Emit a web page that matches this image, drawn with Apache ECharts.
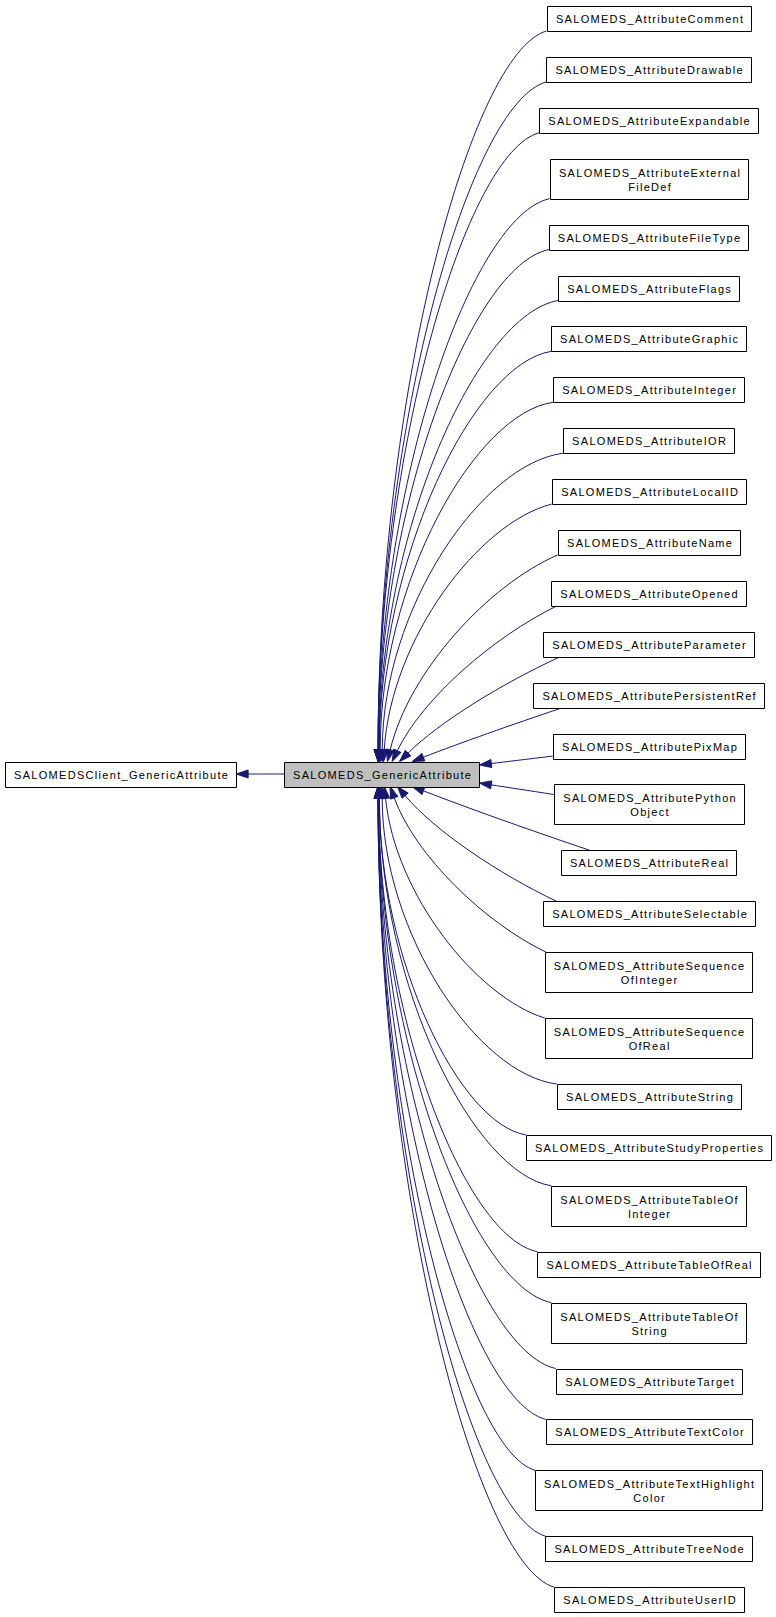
<!DOCTYPE html>
<html><head><meta charset="utf-8">
<script src="https://cdn.jsdelivr.net/npm/echarts@6/dist/echarts.min.js"></script>
<style>
html,body{margin:0;padding:0;background:#fff;}
#chart{width:776px;height:1617px;}
#chart text{letter-spacing:1.3px;}
</style></head><body><div id="chart"></div>
<script>
// ---- data ----
const baseClass = 'SALOMEDSClient_GenericAttribute';
const focusClass = 'SALOMEDS_GenericAttribute';
const derivedClasses = [
  'SALOMEDS_AttributeComment',
  'SALOMEDS_AttributeDrawable',
  'SALOMEDS_AttributeExpandable',
  'SALOMEDS_AttributeExternal\nFileDef',
  'SALOMEDS_AttributeFileType',
  'SALOMEDS_AttributeFlags',
  'SALOMEDS_AttributeGraphic',
  'SALOMEDS_AttributeInteger',
  'SALOMEDS_AttributeIOR',
  'SALOMEDS_AttributeLocalID',
  'SALOMEDS_AttributeName',
  'SALOMEDS_AttributeOpened',
  'SALOMEDS_AttributeParameter',
  'SALOMEDS_AttributePersistentRef',
  'SALOMEDS_AttributePixMap',
  'SALOMEDS_AttributePython\nObject',
  'SALOMEDS_AttributeReal',
  'SALOMEDS_AttributeSelectable',
  'SALOMEDS_AttributeSequence\nOfInteger',
  'SALOMEDS_AttributeSequence\nOfReal',
  'SALOMEDS_AttributeString',
  'SALOMEDS_AttributeStudyProperties',
  'SALOMEDS_AttributeTableOf\nInteger',
  'SALOMEDS_AttributeTableOfReal',
  'SALOMEDS_AttributeTableOf\nString',
  'SALOMEDS_AttributeTarget',
  'SALOMEDS_AttributeTextColor',
  'SALOMEDS_AttributeTextHighlight\nColor',
  'SALOMEDS_AttributeTreeNode',
  'SALOMEDS_AttributeUserID'
];

// ---- layout / style constants ----
const W = 776, H = 1617;
const FONT = '11px "Liberation Sans", Arial, Helvetica, sans-serif';
const LS = 1.3, PAD = 8, LINE_H = 14;
const H1 = 25, H2 = 40, GAP = 25.9, TOP0 = 6;
const RANK_GAP = 48, BASE_X0 = 5, ROW_Y = 774, CHILD_CX = 648.7;
const EDGE = '#191970', AL = 12, AW = 4;

const mctx = document.createElement('canvas').getContext('2d');
mctx.font = FONT;
function textWidth(t) {
  return Math.max.apply(null, t.split('\n').map(l => mctx.measureText(l).width + LS * l.length));
}
function boxH(t) { return t.indexOf('\n') >= 0 ? H2 : H1; }

const nodes = [];
const bw = textWidth(baseClass) + 2 * PAD;
nodes.push({name: baseClass, x0: BASE_X0, y0: ROW_Y - H1 / 2, x1: BASE_X0 + bw, y1: ROW_Y + H1 / 2, fill: '#ffffff'});
const fw = textWidth(focusClass) + 2 * PAD;
const fx0 = nodes[0].x1 + RANK_GAP;
nodes.push({name: focusClass, x0: fx0, y0: ROW_Y - H1 / 2, x1: fx0 + fw, y1: ROW_Y + H1 / 2, fill: '#bfbfbf'});
const childW = derivedClasses.map(t => textWidth(t) + 2 * PAD);
let yTop = TOP0;
derivedClasses.forEach((t, i) => {
  const h = boxH(t);
  nodes.push({name: t, x0: CHILD_CX - childW[i] / 2, y0: yTop, x1: CHILD_CX + childW[i] / 2, y1: yTop + h, fill: '#ffffff'});
  yTop += h + GAP;
});

// ---- edge geometry ----
const clamp = (v, a, b) => Math.max(a, Math.min(b, v));
const lerp = (p, q, w) => [p[0] + (q[0] - p[0]) * w, p[1] + (q[1] - p[1]) * w];
const P = nodes[1];
function finish(S, C1, C2, T) {
  let ux = T[0] - C2[0], uy = T[1] - C2[1];
  const l = Math.hypot(ux, uy) || 1; ux /= l; uy /= l;
  const B = [T[0] - ux * AL, T[1] - uy * AL];
  return {S, C1, C2, B, T};
}
const edges = [];
// focus -> base
(function () {
  const S = [P.x0, ROW_Y], T = [nodes[0].x1, ROW_Y];
  edges.push(finish(S, lerp(S, T, 1 / 3), lerp(S, T, 2 / 3), T));
})();
nodes.slice(2).forEach(c => {
  const cy = (c.y0 + c.y1) / 2;
  const s = cy < ROW_Y ? -1 : 1;   // -1: child above parent
  const d = -s;                      // vertical travel direction child -> parent
  let S, T, K1, K2, r;
  if (Math.abs(cy - ROW_Y) < 50) {
    T = [P.x1, ROW_Y + s * 9];
    const h = c.y1 - c.y0;
    S = [c.x0, clamp(T[1], c.y0 + 0.25 * h, c.y1 - 0.1 * h)];
    r = 0;
    K1 = S; K2 = T;
  } else {
    const edgeY = s < 0 ? c.y1 : c.y0;
    const ty = s < 0 ? P.y0 : P.y1;
    const dyAbs = Math.abs(ty - edgeY);
    r = dyAbs / (c.x0 - 390);
    const tx = 378 + Math.min(36, 36 * Math.exp(-1.5 * (r - 0.34)));
    T = [tx, ty];
    S = [c.x0 + clamp((1.1 - r) * 40, 0, 45), edgeY];
    const dxp = S[0] - T[0];
    K1 = [S[0] - 0.45 * dxp, S[1] + d * 0.03 * dyAbs];
    K2 = [T[0], T[1] - d * 0.5 * dyAbs];
  }
  const w = clamp((r - 0.3) / 1.5, 0, 1);
  const C1 = lerp(lerp(S, T, 1 / 3), K1, w);
  const C2 = lerp(lerp(S, T, 2 / 3), K2, w);
  edges.push(finish(S, C1, C2, T));
});

// ---- chart ----
const chart = echarts.init(document.getElementById('chart'), null, {renderer: 'svg', width: W, height: H});
chart.setOption({
  animation: false,
  backgroundColor: '#ffffff',
  grid: {left: 0, right: 0, top: 0, bottom: 0},
  xAxis: {type: 'value', min: 0, max: W, show: false},
  yAxis: {type: 'value', min: 0, max: H, inverse: true, show: false},
  series: [
    {
      type: 'custom',
      coordinateSystem: 'cartesian2d',
      encode: {x: 0, y: 1},
      data: edges.map((e, i) => [e.S[0], e.S[1], i]),
      renderItem: function (params, api) {
        const g = edges[api.value(2)];
        const s = api.coord(g.S), c1 = api.coord(g.C1), c2 = api.coord(g.C2), b = api.coord(g.B), t = api.coord(g.T);
        let ux = t[0] - b[0], uy = t[1] - b[1];
        const l = Math.hypot(ux, uy) || 1;
        const nx = -uy / l * AW, ny = ux / l * AW;
        return {
          type: 'group',
          children: [
            {type: 'bezierCurve', shape: {x1: s[0], y1: s[1], cpx1: c1[0], cpy1: c1[1], cpx2: c2[0], cpy2: c2[1], x2: b[0], y2: b[1]},
             style: {stroke: EDGE, fill: null, lineWidth: 1}},
            {type: 'polygon', shape: {points: [t, [b[0] + nx, b[1] + ny], [b[0] - nx, b[1] - ny]]},
             style: {fill: EDGE, stroke: EDGE, lineWidth: 1}}
          ]
        };
      }
    },
    {
      type: 'custom',
      coordinateSystem: 'cartesian2d',
      encode: {x: [0, 2], y: [1, 3]},
      data: nodes.map((n, i) => [n.x0, n.y0, n.x1, n.y1, i]),
      renderItem: function (params, api) {
        const n = nodes[api.value(4)];
        const p0 = api.coord([api.value(0), api.value(1)]);
        const p1 = api.coord([api.value(2), api.value(3)]);
        const x0 = Math.round(p0[0]) + 0.5, y0 = Math.round(p0[1]) + 0.5;
        const x1 = Math.round(p1[0]) + 0.5, y1 = Math.round(p1[1]) + 0.5;
        return {
          type: 'group',
          children: [
            {type: 'rect', shape: {x: x0, y: y0, width: x1 - x0, height: y1 - y0},
             style: {fill: n.fill, stroke: '#000000', lineWidth: 1}},
            {type: 'text', style: {text: n.name, x: (x0 + x1) / 2 + LS / 2, y: (y0 + y1) / 2,
             align: 'center', verticalAlign: 'middle', font: FONT, fill: '#000000', lineHeight: LINE_H}}
          ]
        };
      }
    }
  ]
});
</script></body></html>
